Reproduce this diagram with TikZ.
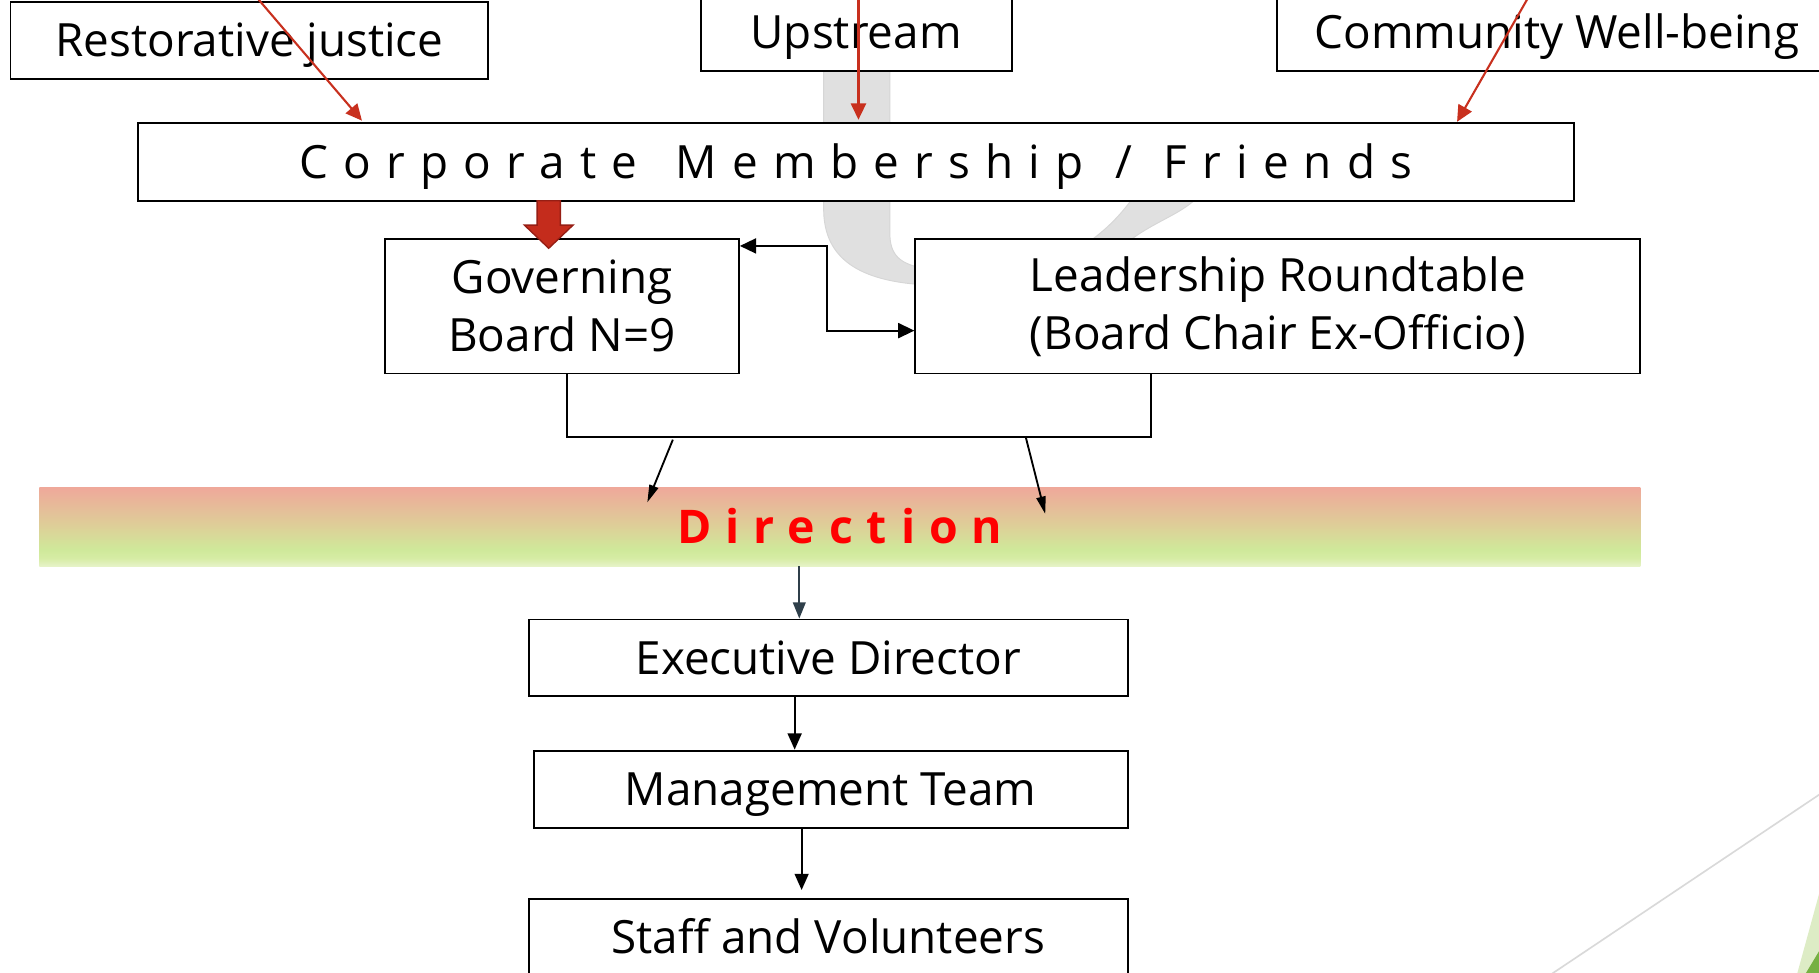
\documentclass[tikz,border=0pt]{standalone}
\usepackage{fontspec}
\setmainfont{Open Sans}
\newfontfamily\spacedfont[LetterSpace=33]{Open Sans}
\newfontfamily\dirfont[LetterSpace=30]{Open Sans}
\usetikzlibrary{arrows.meta,calc}
\definecolor{arrred}{RGB}{200,48,30}
\definecolor{blockred}{RGB}{196,44,28}
\definecolor{blockedge}{RGB}{150,30,20}
\definecolor{wmgray}{RGB}{224,224,224}
\definecolor{wmedge}{RGB}{214,214,214}
\definecolor{slate}{RGB}{47,63,74}
\definecolor{bandtop}{RGB}{239,168,154}
\definecolor{bandmid}{RGB}{221,208,152}
\definecolor{bandgreen}{RGB}{207,233,154}
\definecolor{bandlow}{RGB}{214,236,165}
\definecolor{bandbot}{RGB}{230,243,200}
\definecolor{lightgreen}{RGB}{221,236,197}
\definecolor{darkgreen}{RGB}{118,176,66}
\definecolor{decogray}{RGB}{217,217,217}
\pgfdeclareverticalshading{dirband}{100bp}{color(0bp)=(bandbot); color(25bp)=(bandbot); color(30bp)=(bandlow); color(35.5bp)=(bandgreen); color(50bp)=(bandmid); color(75bp)=(bandtop); color(100bp)=(bandtop)}
\begin{document}
\begin{tikzpicture}[x=1pt,y=-1pt,
  box/.style={draw=black, line width=1.6pt, fill=white, inner sep=0pt, align=center,
              font=\fontsize{39.5}{50}\selectfont},
  oneline/.style={text height=28pt, text depth=0pt},
  redarr/.style={draw=arrred, line width=1.8pt, -{Triangle[length=14pt,width=13pt]}},
  blkarr/.style={draw=black, line width=1.6pt, -{Triangle[length=14pt,width=12pt]}},
  dblarr/.style={draw=black, line width=1.6pt, {Triangle[length=14pt,width=13pt]}-{Triangle[length=14pt,width=13pt]}},
  slatearr/.style={draw=slate, line width=1.4pt, -{Triangle[length=14pt,width=11pt]}},
  thinarr/.style={draw=black, line width=1.6pt, -{Triangle[length=15pt,width=8pt]}},
]
\useasboundingbox (0,0) rectangle (1568,838);
\clip (0,0) rectangle (1568,838);
\fill[white] (0,0) rectangle (1568,838);

% watermark letter
\filldraw[fill=wmgray, draw=wmedge, line width=0.8pt]
  (710,40) -- (710,180) .. controls (710,215) and (730,240) .. (790,245)
  -- (880,262) .. controls (930,262) and (955,222) .. (977,205)
  .. controls (995,192) and (1015,185) .. (1028,174) -- (1065,118)
  -- (1012,118) -- (974,174) .. controls (962,190) and (950,200) .. (942,206)
  -- (900,230) -- (800,232) .. controls (775,228) and (767,220) .. (767,200)
  -- (767,40) -- cycle;

% corner decoration
\draw[decogray, line width=1.4pt] (1310,858) -- (1598,665);
\fill[lightgreen] (1549,840) -- (1580,727) -- (1580,840) -- cycle;
\fill[darkgreen] (1556,840) -- (1580,800) -- (1580,840) -- cycle;

% boxes
\node[box, oneline, minimum width=412pt, minimum height=66pt] (rj) at (215,35) {Restorative justice};
\node[box, oneline, minimum width=268pt, minimum height=66pt] (up) at (738,28) {Upstream};
\node[box, oneline, minimum width=482pt, minimum height=66pt] (cw) at (1342,28) {Community Well-being};
\node[box, oneline, minimum width=1238pt, minimum height=67pt] (corp) at (738,139.5)
  {\spacedfont Corporate\hspace{10pt} Membership\hspace{4pt} /\hspace{4pt} Friends};
\node[box, minimum width=305pt, minimum height=116pt] (gov) at (484.5,264) {Governing\\Board N=9};
\node[box, minimum width=625pt, minimum height=116pt] (lead) at (1101.5,264) {Leadership Roundtable\\(Board Chair Ex-Officio)};
\node[shade, shading=dirband, minimum width=1380pt, minimum height=68pt, inner sep=0pt,
      text=red, text height=29pt, text depth=0pt, font=\fontsize{40}{48}\dirfont\bfseries] (dir) at (724,454) {Direction};
\node[box, oneline, minimum width=516pt, minimum height=66pt] (exec) at (714,567) {Executive Director};
\node[box, oneline, minimum width=512pt, minimum height=67pt] (mgmt) at (716,680.5) {Management Team};
\node[box, oneline, minimum width=516pt, minimum height=66pt] (staff) at (714,808) {Staff and Volunteers};

% red arrows from the top
\coordinate (rjsrc) at (213,-12);
\coordinate (rjhit) at (312,104);
\draw[redarr] (rjsrc) -- (rjhit);
\coordinate (upsrc) at (740,-12);
\draw[redarr, shorten >=2pt] (upsrc) -- (corp.north -| upsrc);
\coordinate (cwsrc) at (1323,-12);
\coordinate (cwhit) at (1256,105);
\draw[redarr] (cwsrc) -- (cwhit);

% block arrow
\filldraw[fill=blockred, draw=blockedge, line width=1.2pt]
  (463,173) -- (463,194) -- (452,194) -- (473,214) -- (494,194) -- (483,194) -- (483,173) -- cycle;

% double arrow between board and roundtable
\coordinate (lk1) at (713,212);
\coordinate (lk2) at (713,285);
\draw[dblarr] (gov.east |- lk1) -- (lk1) -- (lk2) -- (lead.west |- lk2);

% bracket
\coordinate (bl) at (488.5,377);
\coordinate (br) at (992,377);
\draw[line width=1.6pt] (gov.south -| bl) -- (bl) -- (br) -- (lead.south -| br);

% arrows into Direction
\coordinate (da1) at (580,379);
\coordinate (dt1) at (558,433);
\coordinate (da2) at (884,376);
\coordinate (dt2) at (901,443);
\draw[thinarr] (da1) -- (dt1);
\draw[thinarr] (da2) -- (dt2);

% chain
\coordinate (c1) at (689,0);
\draw[slatearr] (dir.south -| c1) -- (exec.north -| c1);
\coordinate (c2) at (685,0);
\draw[blkarr] (exec.south -| c2) -- (mgmt.north -| c2);
\coordinate (c3) at (691,0);
\draw[blkarr, shorten >=7pt] (mgmt.south -| c3) -- (staff.north -| c3);
\end{tikzpicture}
\end{document}
